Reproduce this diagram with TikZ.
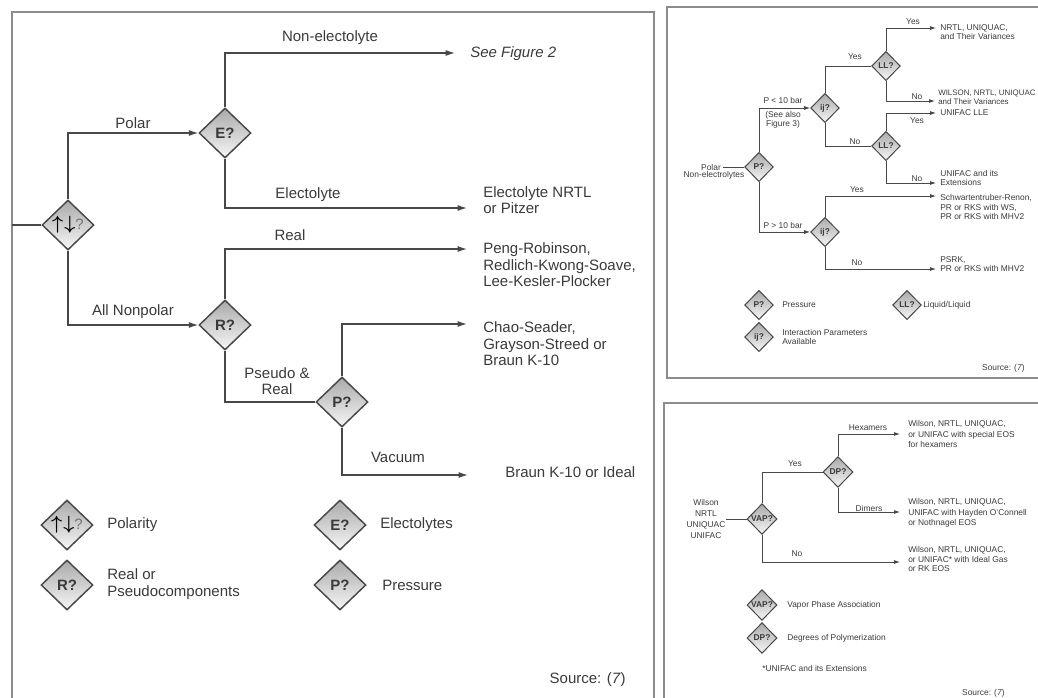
\documentclass[tikz,border=0pt]{standalone}
\usepackage{fontspec}
\setmainfont{Liberation Sans}
\usetikzlibrary{shapes.geometric,arrows.meta}
\definecolor{inkgray}{RGB}{58,58,58}
\definecolor{linegray}{RGB}{72,72,72}
\definecolor{framegray}{RGB}{140,140,140}
\definecolor{shadehi}{RGB}{170,170,170}
\definecolor{shadelo}{RGB}{246,246,246}
\newcommand{\bigtxt}{\fontsize{11.25}{12.4}\selectfont}
\newcommand{\tinytxt}{\fontsize{6.3}{7}\selectfont}
\newcommand{\polsym}{{\color{black}\fontsize{15}{15}\selectfont\boldmath$\uparrow\mkern1mu\downarrow$}{\mdseries\color{black!55}?}}
\tikzset{
  query/.style={diamond,draw=linegray,line width=1.1pt,top color=shadehi,bottom color=shadelo,inner sep=0pt,minimum width=39pt,minimum height=37.5pt,font=\bigtxt\bfseries,text=inkgray},
  minquery/.style={query,line width=0.75pt,minimum width=21.5pt,minimum height=22pt,font=\tinytxt\bfseries},
  link/.style={draw=linegray,line width=0.95pt},
  goto/.style={link,-{Latex[length=7pt,width=4.5pt]}},
  minlink/.style={draw=linegray,line width=0.6pt},
  mingoto/.style={minlink,-{Latex[length=4.5pt,width=3pt]}},
  tag/.style={font=\bigtxt,text=inkgray,inner sep=0pt,align=center},
  result/.style={tag,anchor=west,align=left},
  mintag/.style={font=\tinytxt,text=inkgray,inner sep=0pt,align=center},
  minresult/.style={mintag,anchor=west,align=left},
  panel/.style={draw=framegray,line width=1.3pt}
}

\begin{document}
\begin{tikzpicture}[x=0.75pt,y=-0.75pt]
		\useasboundingbox (0,0) rectangle (1038,697);
		\clip (0,0) rectangle (1038,697);
		\draw[panel] (12,12) rectangle (654,712);
		\draw[panel] (667,7) rectangle (1050,378);
		\draw[panel] (664,403) rectangle (1050,712);

		\node[query] (pol) at (68,225) {\polsym};
		\node[query] (elec) at (225,133) {E?};
		\node[query] (rc) at (225,325) {R?};
		\node[query] (pr) at (342,402) {P?};
		\coordinate (inlet) at (12,225);
		\coordinate (endFig) at (455,53);
		\coordinate (endNrtl) at (467,208);
		\coordinate (endPeng) at (467,249);
		\coordinate (endChao) at (467,324);
		\coordinate (endBraun) at (468,475);

		\node[tag] (tPolar) at (133,123) {Polar};
		\node[tag] (tNonpol) at (133,312) {All Nonpolar};
		\node[tag] (tNonel) at (330,38) {Non-electolyte};
		\node[tag] (tElec) at (308,195) {Electolyte};
		\node[tag] (tReal) at (290,235) {Real};
		\node[tag] (tPseudo) at (277,381) {Pseudo \&\\Real};
		\node[tag] (tVac) at (398,457) {Vacuum};
		\node[result,font=\bigtxt\itshape] (oFig) at (470,54) {See Figure 2};
		\node[result] (oNrtl) at (483,200) {Electolyte NRTL\\or Pitzer};
		\node[result] (oPeng) at (483,265) {Peng-Robinson,\\Redlich-Kwong-Soave,\\Lee-Kesler-Plocker};
		\node[result] (oChao) at (483,344) {Chao-Seader,\\Grayson-Streed or\\Braun K-10};
		\node[result] (oBraun) at (505,472) {Braun K-10 or Ideal};

		\draw[link] (inlet) -- (pol.west);
		\draw[goto] (pol.north) |- (elec.west);
		\draw[goto] (pol.south) |- (rc.west);
		\draw[goto] (elec.north) |- (endFig);
		\draw[goto] (elec.south) |- (endNrtl);
		\draw[goto] (rc.north) |- (endPeng);
		\draw[link] (rc.south) |- (pr.west);
		\draw[goto] (pr.north) |- (endChao);
		\draw[goto] (pr.south) |- (endBraun);

		\node[query] (kPol) at (67,525) {\polsym};
		\node[result] (kPolT) at (107,525) {Polarity};
		\node[query] (kRc) at (67,585) {R?};
		\node[result] (kRcT) at (107,584) {Real or\\Pseudocomponents};
		\node[query] (kEl) at (340,525) {E?};
		\node[result] (kElT) at (380,525) {Electolytes};
		\node[query] (kPr) at (340,585) {P?};
		\node[result] (kPrT) at (382,585) {Pressure};
		\node[tag,anchor=east] (srcA) at (626,680) {Source: (\textit{7})};

		\node[minquery] (pp) at (759,167) {P?};
		\node[minquery] (ij1) at (825,108) {ij?};
		\node[minquery] (ll1) at (886,66) {LL?};
		\node[minquery] (ll2) at (886,146) {LL?};
		\node[minquery] (ij2) at (825,232) {ij?};
		\node[mintag] (sPolar) at (711,167) {Polar};
		\node[mintag] (sNonel) at (714,175) {Non-electrolytes};
		\node[mintag] (sLow) at (783,100) {P < 10 bar};
		\node[mintag] (sSee) at (783,120) {(See also\\Figure 3)};
		\node[mintag] (sHigh) at (783,225) {P > 10 bar};
		\node[mintag] (sY1) at (855,57) {Yes};
		\node[mintag] (sY2) at (913,22) {Yes};
		\node[mintag] (sN2) at (917,97) {No};
		\node[mintag] (sN1) at (855,142) {No};
		\node[mintag] (sY3) at (917,121) {Yes};
		\node[mintag] (sN3) at (917,179) {No};
		\node[mintag] (sY4) at (857,190) {Yes};
		\node[mintag] (sN4) at (857,263) {No};
		\node[minresult] (rA) at (940,32) {NRTL, UNIQUAC,\\and Their Variances};
		\node[minresult,font=\fontsize{5.95}{7}\selectfont] (rB) at (938,97) {WILSON, NRTL, UNIQUAC\\and Their Variances};
		\node[minresult] (rC) at (940,113) {UNIFAC LLE};
		\node[minresult] (rD) at (940,178) {UNIFAC and its\\Extensions};
		\node[minresult] (rE) at (940,207) {Schwartentruber-Renon,\\PR or RKS with WS,\\PR or RKS with MHV2};
		\node[minresult] (rF) at (940,264) {PSRK,\\PR or RKS with MHV2};
		\coordinate (endA) at (936,28);
		\coordinate (endB) at (935,101);
		\coordinate (endC) at (936,113);
		\coordinate (endD) at (936,183);
		\coordinate (endE) at (936,196);
		\coordinate (endF) at (936,269);

		\draw[minlink,shorten <=1.5pt] (sPolar.east) -- (pp.west);
		\draw[mingoto] (pp.north) |- (ij1.west);
		\draw[mingoto] (pp.south) |- (ij2.west);
		\draw[minlink] (ij1.north) |- (ll1.west);
		\draw[minlink] (ij1.south) |- (ll2.west);
		\draw[mingoto] (ll1.north) |- (endA);
		\draw[mingoto] (ll1.south) |- (endB);
		\draw[mingoto] (ll2.north) |- (endC);
		\draw[mingoto] (ll2.south) |- (endD);
		\draw[mingoto] (ij2.north) |- (endE);
		\draw[mingoto] (ij2.south) |- (endF);

		\node[minquery] (kPp) at (759,305) {P?};
		\node[minresult] (kPpT) at (782,305) {Pressure};
		\node[minquery] (kLl) at (907,305) {LL?};
		\node[minresult] (kLlT) at (923,305) {Liquid/Liquid};
		\node[minquery] (kIj) at (759,337) {ij?};
		\node[minresult] (kIjT) at (782,337) {Interaction Parameters\\Available};
		\node[mintag,anchor=east] (srcB) at (1025,368) {Source: (\textit{7})};

		\node[minquery,minimum width=22.5pt,minimum height=23pt] (vap) at (762,519) {VAP?};
		\node[minquery,minimum width=22.5pt,minimum height=23pt] (dp) at (838,472) {DP?};
		\node[mintag,font=\fontsize{6.3}{8.2}\selectfont] (wlist) at (706,519) {Wilson\\NRTL\\UNIQUAC\\UNIFAC};
		\node[mintag] (vYes) at (795,464) {Yes};
		\node[mintag] (vNo) at (797,554) {No};
		\node[mintag] (vHex) at (868,428) {Hexamers};
		\node[mintag] (vDim) at (869,508) {Dimers};
		\node[minresult,font=\fontsize{6.3}{7.8}\selectfont] (wA) at (908,434) {Wilson, NRTL, UNIQUAC,\\or UNIFAC with special EOS\\for hexamers};
		\node[minresult,font=\fontsize{6.3}{7.8}\selectfont] (wB) at (908,513) {Wilson, NRTL, UNIQUAC,\\UNIFAC with Hayden O'Connell\\or Nothnagel EOS};
		\node[minresult,font=\fontsize{6.3}{7.2}\selectfont] (wC) at (908,559) {Wilson, NRTL, UNIQUAC,\\or UNIFAC* with Ideal Gas\\or RK EOS};
		\coordinate (endHex) at (900,434);
		\coordinate (endDim) at (900,512);
		\coordinate (endIdeal) at (900,562);

		\draw[minlink] (wlist.east) -- (vap.west);
		\draw[minlink] (vap.north) |- (dp.west);
		\draw[mingoto] (dp.north) |- (endHex);
		\draw[mingoto] (dp.south) |- (endDim);
		\draw[mingoto] (vap.south) |- (endIdeal);

		\node[minquery,minimum width=22.5pt,minimum height=23pt] (kVap) at (762,605) {VAP?};
		\node[minresult] (kVapT) at (787,605) {Vapor Phase Association};
		\node[minquery,minimum width=22.5pt,minimum height=23pt] (kDp) at (762,638) {DP?};
		\node[minresult] (kDpT) at (787,638) {Degrees of Polymerization};
		\node[minresult] (note) at (762,668) {*UNIFAC and its Extensions};
		\node[mintag,anchor=east] (srcC) at (1005,693) {Source: (\textit{7})};
\end{tikzpicture}
\end{document}
